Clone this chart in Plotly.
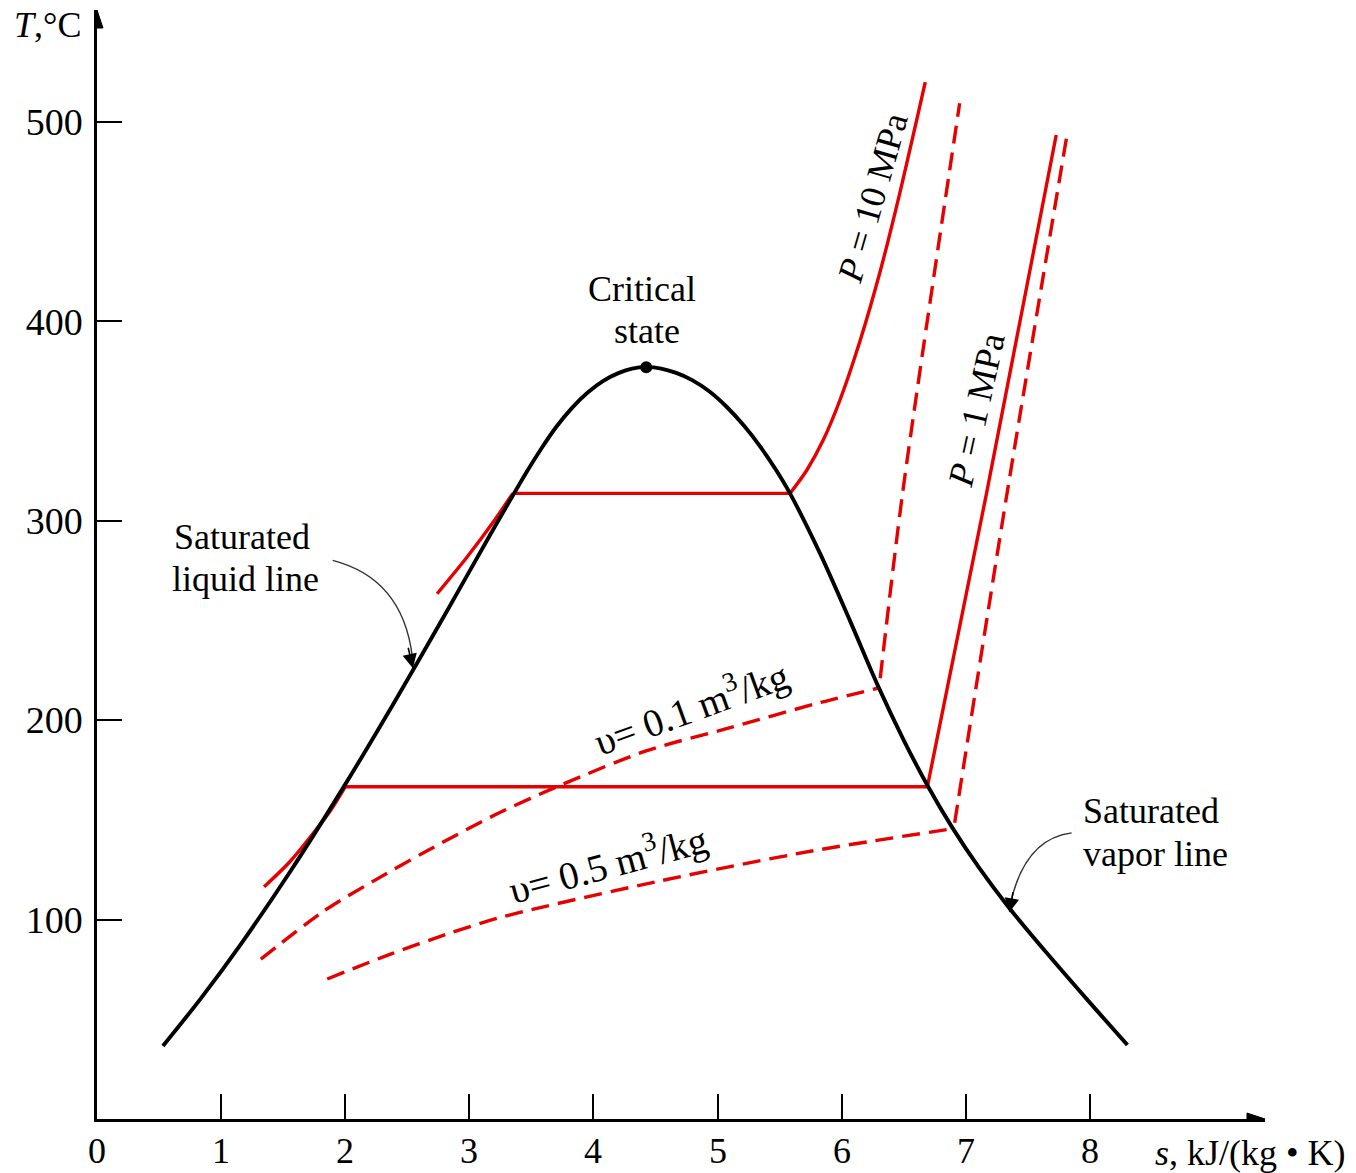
import plotly.graph_objects as go

# ---------------- data (s in kJ/(kg K), T in degC) ----------------
dome_s = [0.531, 0.837, 1.158, 1.561, 1.995, 2.405, 2.821, 3.170, 3.465, 3.580, 3.701, 3.829, 3.958,
          4.079, 4.200, 4.312, 4.425, 4.545, 4.666, 4.795, 4.932, 5.068, 5.213, 5.342, 5.471, 5.583,
          5.825, 6.066, 6.291, 6.500, 6.693, 6.887, 7.112, 7.337, 7.659, 7.981, 8.302]
dome_T = [36.6, 60.5, 87.6, 124.5, 167.3, 210.0, 254.9, 293.2, 324.8, 336.2, 347.1, 356.7, 364.5,
          370.1, 374.0, 376.3, 377.0, 376.3, 374.1, 370.5, 364.9, 357.4, 347.6, 337.3, 325.4, 313.7,
          283.6, 249.9, 217.3, 189.9, 167.0, 146.5, 125.5, 106.8, 82.7, 59.6, 37.1]

crit_s = [4.425]
crit_T = [377.0]

p10_liq_s = [2.74, 2.98, 3.20, 3.35]
p10_liq_T = [263.4, 281.7, 300.0, 313.7]
p10_sat_s = [3.35, 5.583]
p10_sat_T = [313.7, 313.7]
p10_sup_s = [5.583, 5.717, 5.850, 5.985, 6.149, 6.312, 6.473, 6.673]
p10_sup_T = [313.7, 325.2, 340.3, 360.4, 390.5, 425.6, 465.7, 519.9]

p1_liq_s = [1.346, 1.561, 1.80, 1.88, 2.0]
p1_liq_T = [116.4, 129.5, 147.9, 154.6, 166.6]
p1_sat_s = [2.0, 6.69]
p1_sat_T = [166.6, 166.6]
p1_sup_s = [6.69, 7.166, 7.728]
p1_sup_T = [166.6, 313.6, 493.4]

v01_s = [1.32, 1.83, 2.23, 2.66, 3.22, 3.757, 4.43, 5.10, 5.825, 6.29]
v01_T = [80.2, 104.4, 119.4, 134.5, 152.9, 168.0, 184.7, 196.2, 208.8, 216.0]
v01_sup_s = [6.31, 6.49, 6.95]
v01_sup_T = [221.0, 313.7, 509.3]

v05_s = [1.855, 2.365, 2.82, 3.25, 4.537, 5.77, 6.89]
v05_T = [70.2, 82.7, 92.7, 101.1, 119.4, 134.5, 145.5]
v05_sup_s = [6.91, 7.327, 7.81]
v05_sup_T = [148.6, 311.9, 491.7]

x_ticks = [0, 1, 2, 3, 4, 5, 6, 7, 8]
x_labels = ["0", "1", "2", "3", "4", "5", "6", "7", "8"]
y_ticks = [100, 200, 300, 400, 500]
y_labels = ["100", "200", "300", "400", "500"]

# ---------------- styles ----------------
RED = "#e60000"
FONT = "Liberation Serif"
X_MAX = 9.41
Y_MAX = 556.1

fig = go.Figure()

def red(s, T, dash=None, spline=True):
    fig.add_trace(go.Scatter(
        x=s, y=T, mode="lines", hoverinfo="skip", showlegend=False,
        line=dict(color=RED, width=3.4, dash=dash if dash else "solid",
                  shape="spline" if spline else "linear", smoothing=0.8)))

DASH = "18px,9px"
red(v01_s, v01_T, DASH)
red(v01_sup_s, v01_sup_T, DASH)
red(v05_s, v05_T, DASH)
red(v05_sup_s, v05_sup_T, DASH)
red(p10_liq_s, p10_liq_T)
red(p10_sat_s, p10_sat_T, spline=False)
red(p10_sup_s, p10_sup_T)
red(p1_liq_s, p1_liq_T)
red(p1_sat_s, p1_sat_T, spline=False)
red(p1_sup_s, p1_sup_T)

fig.add_trace(go.Scatter(
    x=dome_s, y=dome_T, mode="lines", hoverinfo="skip", showlegend=False,
    line=dict(color="black", width=3.9, shape="spline", smoothing=0.9)))
fig.add_trace(go.Scatter(
    x=crit_s, y=crit_T, mode="markers", hoverinfo="skip", showlegend=False,
    marker=dict(color="black", size=12)))

# ---------------- annotations ----------------
def txt(x, y, text, size=36, angle=0, xref="x", yref="y"):
    fig.add_annotation(x=x, y=y, xref=xref, yref=yref,
                       text=text, showarrow=False,
                       xanchor="center", yanchor="middle", textangle=angle,
                       font=dict(family=FONT, size=size, color="black"))

txt(4.393, 416.1, "Critical")
txt(4.433, 395.0, "state")
txt(1.167, 291.6, "Saturated")
txt(1.199, 271.0, "liquid line")
txt(8.488, 154.6, "Saturated")
txt(8.528, 133.0, "vapor line")
txt(6.251, 461.7, "<i>P</i> = 10 MPa", size=36, angle=-74)
txt(7.088, 355.3, "<i>P</i> = 1 MPa", size=36, angle=-77.5)
txt(4.779, 206.8, "υ= 0.1 m<sup>3</sup>/kg", size=39, angle=-20)
txt(4.111, 128.5, "υ= 0.5 m<sup>3</sup>/kg", size=39, angle=-15)
txt(-0.042, 0.9865, "<i>T</i>,°C", xref="paper", yref="paper")
txt(0.988, -0.0307, "<i>s</i>, kJ/(kg • K)", xref="paper", yref="paper")

# x tick labels (placed just under the axis line)
for v, lab in zip(x_ticks, x_labels):
    txt(v, -0.0285, lab, size=36, xref="x", yref="paper")

# curved pointer lines
fig.add_shape(type="path", xref="x", yref="y",
              path="M 1.899 280.1 Q 2.462 271.0 2.540 232.0",
              line=dict(color="#333", width=1.4))
fig.add_shape(type="path", xref="x", yref="y",
              path="M 7.852 143.5 Q 7.474 140.5 7.360 108.0",
              line=dict(color="#333", width=1.4))
for (hx, hy, ax, ay) in [(2.545, 226.0, -5, -22), (7.350, 103.5, 4, -22)]:
    fig.add_annotation(x=hx, y=hy, xref="x", yref="y", ax=ax, ay=ay, axref="pixel", ayref="pixel",
                       text="", showarrow=True, arrowhead=2, arrowsize=1.8, arrowwidth=1.6,
                       arrowcolor="black")

# axis arrowheads
fig.add_shape(type="path", xref="x", yref="y", xsizemode="pixel", ysizemode="pixel",
              xanchor=X_MAX, yanchor=0, path="M 0 0 L -18 6 L -18 -6 Z",
              fillcolor="black", line=dict(color="black", width=1))
fig.add_shape(type="path", xref="x", yref="y", xsizemode="pixel", ysizemode="pixel",
              xanchor=0, yanchor=Y_MAX, path="M 0 0 L -6 -18 L 6 -18 Z",
              fillcolor="black", line=dict(color="black", width=1))

axis_common = dict(showgrid=False, zeroline=False, showline=True, linecolor="black", linewidth=2.5,
                   ticks="inside", ticklen=25, tickwidth=2, tickcolor="black", automargin=False,
                   tickfont=dict(family=FONT, size=38, color="black"))

fig.update_layout(
    width=1356, height=1173,
    margin=dict(l=97, r=91, t=10, b=54, pad=0),
    paper_bgcolor="white", plot_bgcolor="white",
    xaxis=dict(range=[0, X_MAX], tickvals=x_ticks, showticklabels=False, **axis_common),
    yaxis=dict(range=[0, Y_MAX], tickvals=y_ticks, ticktext=y_labels, ticklabelstandoff=4, **axis_common),
)

fig.write_html("out.html", config={"displayModeBar": False},
               post_script="document.body.style.margin='0';document.body.style.overflow='hidden';")
